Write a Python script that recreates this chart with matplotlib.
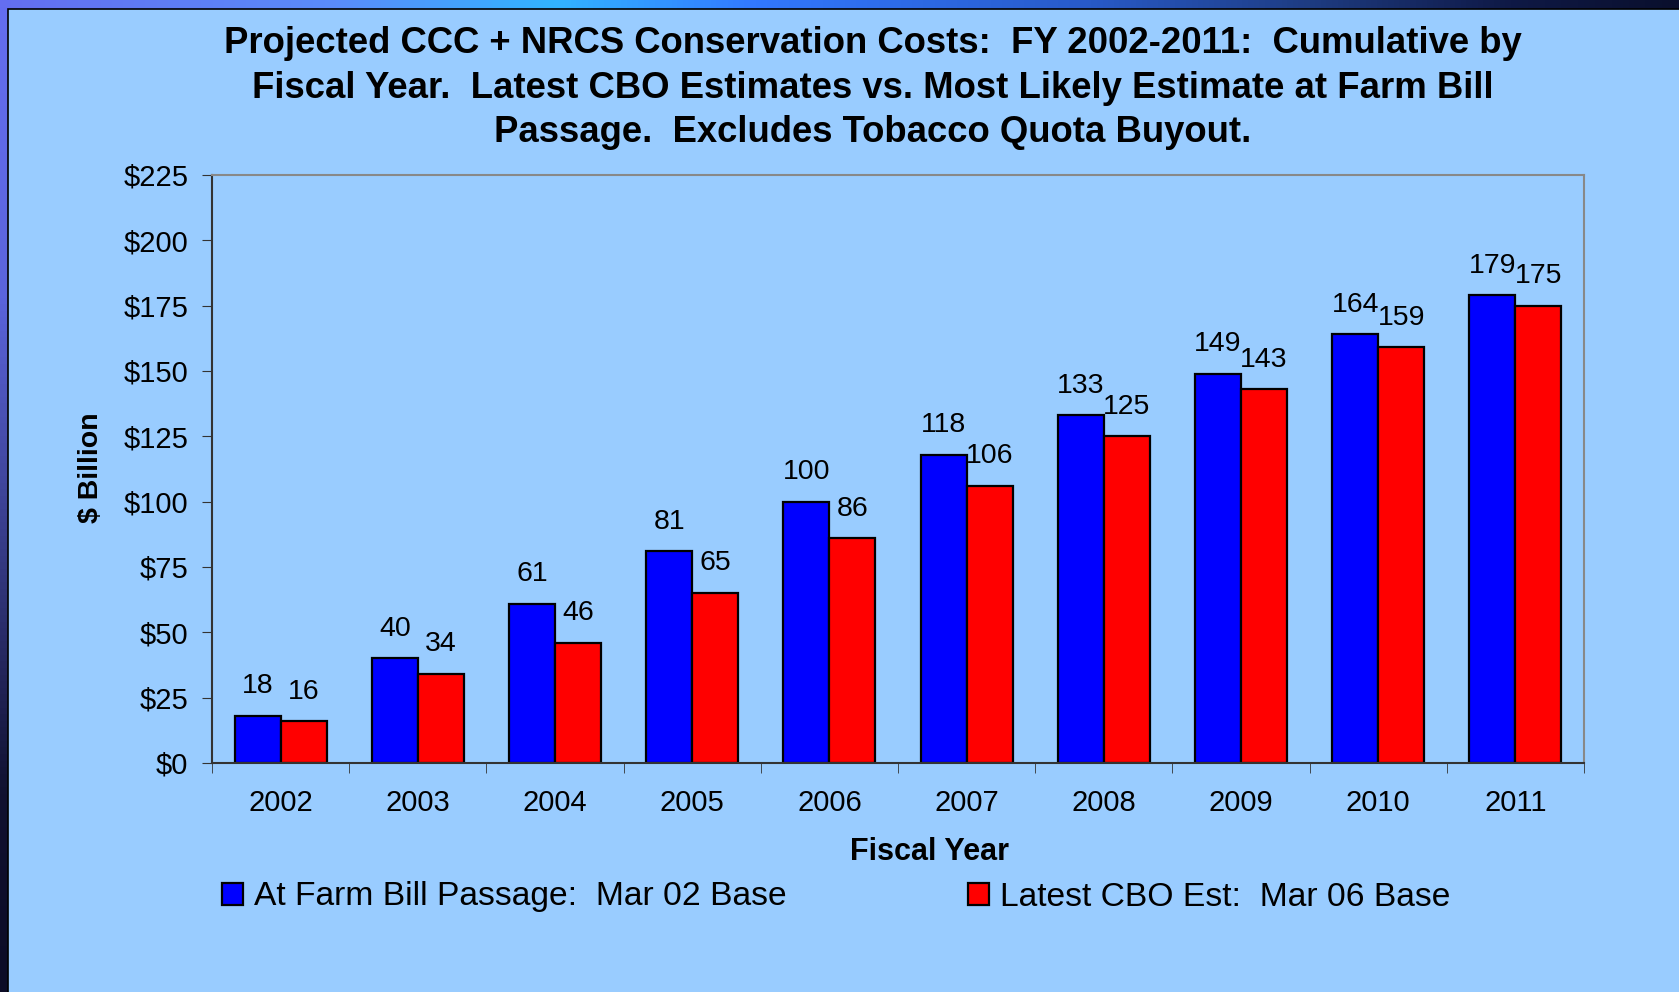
import numpy as np
import matplotlib
matplotlib.use("Agg")
import matplotlib.pyplot as plt
import matplotlib.patches as patches
from matplotlib.ticker import FixedLocator

plt.rcParams['font.family'] = ['Liberation Sans', 'DejaVu Sans']

years = ['2002', '2003', '2004', '2005', '2006', '2007', '2008', '2009', '2010', '2011']
farm_bill = [18, 40, 61, 81, 100, 118, 133, 149, 164, 179]
latest_cbo = [16, 34, 46, 65, 86, 106, 125, 143, 159, 175]
yticks = [0, 25, 50, 75, 100, 125, 150, 175, 200, 225]

W, H = 1679, 992
fig = plt.figure(figsize=(W / 100, H / 100), dpi=100)

# gradient frame behind the panel
bg = fig.add_axes([0, 0, 1, 1])
gx = np.linspace(0, 1, 300)
gy = np.linspace(0, 1, 150)
xs = [0, 0.2, 0.33, 0.45, 0.65, 0.78, 0.9, 1]
top = np.array([np.interp(gx, xs, [100, 90, 50, 50, 40, 30, 15, 10]),
                np.interp(gx, xs, [110, 140, 180, 120, 90, 60, 25, 15]),
                np.interp(gx, xs, [240, 250, 255, 255, 200, 130, 70, 45])]).T
dark = np.array([12, 12, 38])
s = np.interp(gy, [0, 0.3, 0.6, 0.8, 1], [0, 0.1, 0.6, 0.95, 1])
img = top[None, :, :] * (1 - s[:, None, None]) + dark * s[:, None, None]
bg.imshow(img / 255, aspect='auto', extent=[0, 1, 0, 1], origin='upper')
bg.add_patch(patches.Rectangle((8 / W, -0.01), 1, 1 - 9 / H + 0.01,
                               facecolor='#99CCFF', edgecolor='black', lw=1.2))
bg.set_xlim(0, 1)
bg.set_ylim(0, 1)
bg.axis('off')

ax = fig.add_axes([212 / W, 1 - 763 / H, 1372 / W, 588 / H])
ax.set_facecolor('none')

x = np.arange(len(years))
w = 0.335
b1 = ax.bar(x - w / 2, farm_bill, w, color='#0000FF', edgecolor='black', lw=1.6,
            label='At Farm Bill Passage:  Mar 02 Base')
b2 = ax.bar(x + w / 2, latest_cbo, w, color='#FF0000', edgecolor='black', lw=1.6,
            label='Latest CBO Est:  Mar 06 Base')

for bars, vals in ((b1, farm_bill), (b2, latest_cbo)):
    for r, v in zip(bars, vals):
        ax.annotate(str(v), (r.get_x() + r.get_width() / 2, v), xytext=(0, 12),
                    textcoords='offset points', ha='center', va='bottom', fontsize=20.5)

ax.set_xlim(-0.5, len(years) - 0.5)
ax.set_ylim(0, 225)
ax.set_yticks(yticks)
ax.set_yticklabels(['$%d' % t for t in yticks])
ax.set_xticks(x)
ax.set_xticklabels(years)
ax.xaxis.set_minor_locator(FixedLocator(np.arange(len(years) + 1) - 0.5))
ax.tick_params(axis='x', which='major', length=0, pad=19, labelsize=21)
ax.tick_params(axis='x', which='minor', length=7, direction='out', color='#333333')
ax.tick_params(axis='y', length=7, direction='out', pad=10, labelsize=21, color='#333333')

for sp in ('left', 'bottom'):
    ax.spines[sp].set_color('#333333')
    ax.spines[sp].set_linewidth(1.5)
for sp in ('top', 'right'):
    ax.spines[sp].set_color('#888888')
    ax.spines[sp].set_linewidth(1.5)

fig.text(873 / W, 1 - 88 / H,
         'Projected CCC + NRCS Conservation Costs:  FY 2002-2011:  Cumulative by\n'
         'Fiscal Year.  Latest CBO Estimates vs. Most Likely Estimate at Farm Bill\n'
         'Passage.  Excludes Tobacco Quota Buyout.',
         ha='center', va='center', fontsize=26.3, fontweight='bold', linespacing=1.37)

fig.text(929 / W, 1 - 852 / H, 'Fiscal Year', ha='center', va='center',
         fontsize=22, fontweight='bold')
fig.text(91 / W, 1 - 468 / H, '$ Billion', ha='center', va='center',
         rotation=90, fontsize=20.5, fontweight='bold')

fig.legend(handles=[b1, b2], loc='center left', bbox_to_anchor=(222 / W, 1 - 897 / H),
           ncol=2, frameon=False, fontsize=24.2, handlelength=0.62, handleheight=0.62,
           handletextpad=0.33, columnspacing=5.4, borderpad=0, borderaxespad=0)

fig.savefig('out.png', dpi=100)
